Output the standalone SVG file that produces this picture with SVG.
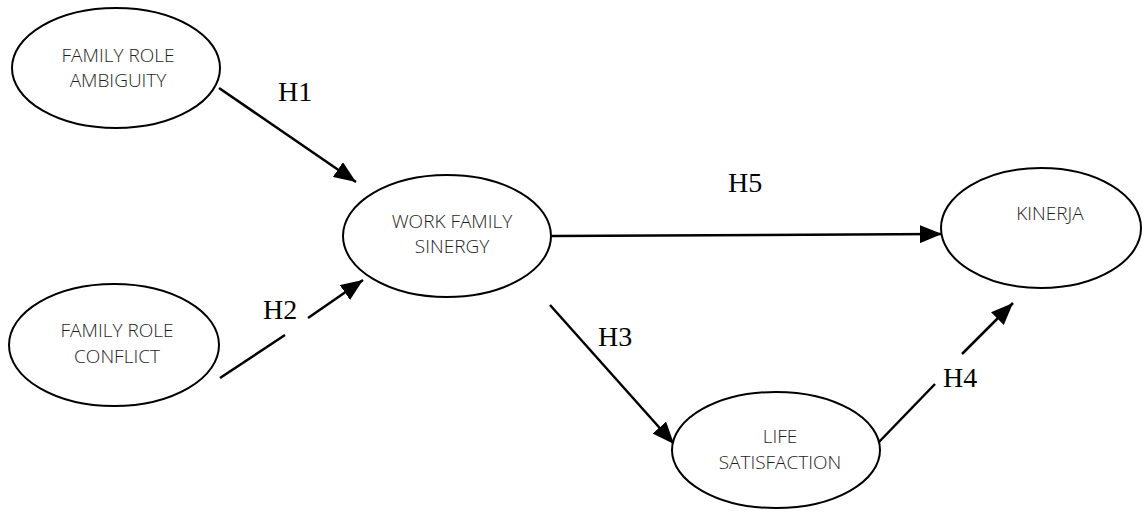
<svg xmlns="http://www.w3.org/2000/svg" width="1144" height="512" viewBox="0 0 1144 512">
<style>
.node ellipse{fill:#fff;stroke:#000;stroke-width:2}
.node text{font-family:"Open Sans","Liberation Sans",sans-serif;font-size:19px;font-weight:300;fill:#1e1e1e;text-anchor:middle}
.lbl{font-family:"Liberation Serif","Times New Roman",serif;font-size:28px;fill:#000}
.conn line{stroke:#000;stroke-width:2.5}
</style>
<defs>
<marker id="ah" markerUnits="userSpaceOnUse" markerWidth="22" markerHeight="18" viewBox="0 0 22 18" refX="22" refY="9" orient="auto">
<path d="M0,0 L22,9 L0,18 Z" fill="#000"/>
</marker>
</defs>
<rect width="1144" height="512" fill="#fff"/>
<g id="connectors" class="conn">
<line x1="219" y1="88" x2="356" y2="182" marker-end="url(#ah)"/>
<line x1="220" y1="378" x2="285" y2="335"/>
<line x1="308" y1="318" x2="363" y2="280" marker-end="url(#ah)"/>
<line x1="552" y1="236" x2="942" y2="234" marker-end="url(#ah)"/>
<line x1="550" y1="305" x2="674" y2="444" marker-end="url(#ah)"/>
<line x1="878" y1="443" x2="935" y2="384"/>
<line x1="962" y1="354" x2="1013" y2="303" marker-end="url(#ah)"/>
</g>
<g id="n-ambiguity" class="node">
<ellipse cx="116" cy="68" rx="104" ry="60"/>
<text x="118" y="62">FAMILY ROLE</text>
<text x="118" y="87">AMBIGUITY</text>
</g>
<g id="n-conflict" class="node">
<ellipse cx="114" cy="345" rx="105" ry="61"/>
<text x="117" y="337">FAMILY ROLE</text>
<text x="117" y="363">CONFLICT</text>
</g>
<g id="n-sinergy" class="node">
<ellipse cx="447" cy="236" rx="104" ry="61"/>
<text x="452" y="228">WORK FAMILY</text>
<text x="452" y="253">SINERGY</text>
</g>
<g id="n-kinerja" class="node">
<ellipse cx="1041" cy="228" rx="100" ry="60"/>
<text x="1050" y="220">KINERJA</text>
</g>
<g id="n-life" class="node">
<ellipse cx="776" cy="450" rx="104" ry="58"/>
<text x="780" y="443">LIFE</text>
<text x="780" y="469">SATISFACTION</text>
</g>
<g id="labels">
<text class="lbl" x="278" y="101">H1</text>
<text class="lbl" x="263" y="319">H2</text>
<text class="lbl" x="598" y="346">H3</text>
<text class="lbl" x="943" y="387">H4</text>
<text class="lbl" x="728" y="192">H5</text>
</g>
</svg>
